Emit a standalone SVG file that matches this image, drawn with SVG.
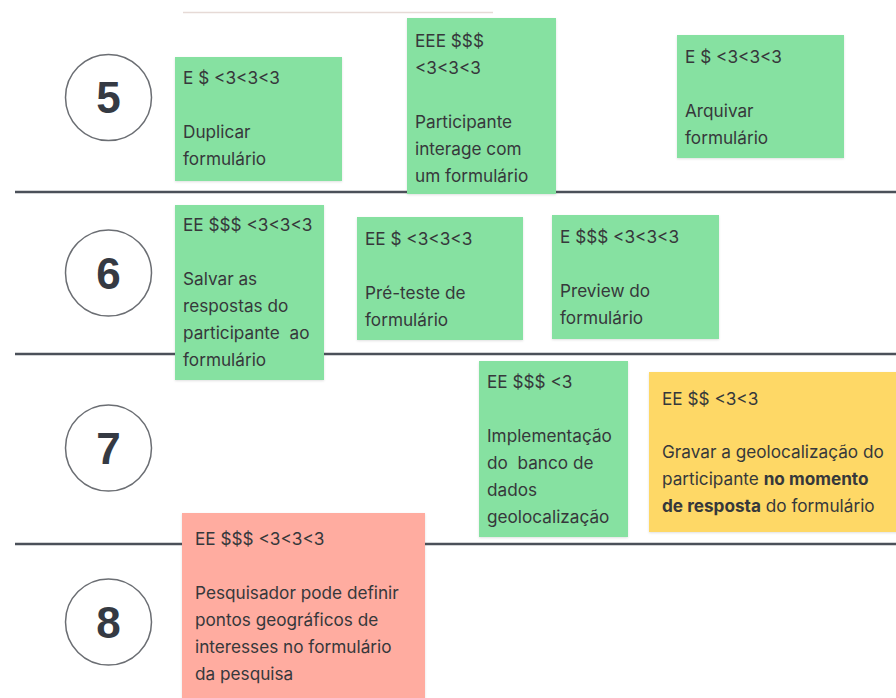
<svg xmlns="http://www.w3.org/2000/svg" width="896" height="698" viewBox="0 0 896 698">
  <defs>
    <filter id="shadow" x="-5%" y="-5%" width="110%" height="115%">
      <feDropShadow dx="0" dy="1" stdDeviation="1" flood-color="#000" flood-opacity="0.12"/>
    </filter>
  </defs>
  <style>
    .lane { stroke: #4b5059; stroke-width: 2.5; }
    .step circle { fill: #fff; stroke: #6b6e73; stroke-width: 1.5; }
    .step text { font-family: "Liberation Sans", Arial, sans-serif; font-weight: bold; font-size: 44px; fill: #353a43; text-anchor: middle; }
    .note rect { filter: url(#shadow); }
    .green rect { fill: #86e1a1; }
    .yellow rect { fill: #fed866; }
    .red rect { fill: #ffaca0; }
    .note text { font-family: Inter, "Noto Sans", sans-serif; font-size: 17.2px; fill: #36383b; }
    .b { font-weight: bold; }
  </style>
  <rect width="896" height="698" fill="#fff"/>

  <!-- edge of a card cut off at the top -->
  <line x1="183" y1="12.5" x2="493" y2="12.5" stroke="#e6dad6" stroke-width="1.5"/>

  <!-- lane separators -->
  <g id="lanes">
    <line class="lane" x1="15" y1="192" x2="896" y2="192"/>
    <line class="lane" x1="15" y1="354" x2="896" y2="354"/>
    <line class="lane" x1="15" y1="544" x2="896" y2="544"/>
  </g>

  <!-- step markers -->
  <g id="step5" class="step"><circle cx="108.5" cy="97.5" r="43"/><text x="108.5" y="113">5</text></g>
  <g id="step6" class="step"><circle cx="108.5" cy="273" r="43"/><text x="108.5" y="289">6</text></g>
  <g id="step7" class="step"><circle cx="108.5" cy="448" r="43"/><text x="108.5" y="464">7</text></g>
  <g id="step8" class="step"><circle cx="108.5" cy="622" r="43"/><text x="108.5" y="638">8</text></g>

  <!-- lane 5 -->
  <g id="duplicar" class="note green">
    <rect x="175" y="57" width="167" height="124"/>
    <text x="183" y="84">E $ &lt;3&lt;3&lt;3</text>
    <text x="183" y="138">Duplicar</text>
    <text x="183" y="165">formulário</text>
  </g>
  <g id="participante-interage" class="note green">
    <rect x="407" y="18" width="149" height="176"/>
    <text x="415" y="47">EEE $$$</text>
    <text x="415" y="74">&lt;3&lt;3&lt;3</text>
    <text x="415" y="128">Participante</text>
    <text x="415" y="155">interage com</text>
    <text x="415" y="182">um formulário</text>
  </g>
  <g id="arquivar" class="note green">
    <rect x="677" y="35" width="167" height="123"/>
    <text x="685" y="63">E $ &lt;3&lt;3&lt;3</text>
    <text x="685" y="117">Arquivar</text>
    <text x="685" y="144">formulário</text>
  </g>

  <!-- lane 6 -->
  <g id="salvar-respostas" class="note green">
    <rect x="175" y="205" width="149" height="175"/>
    <text x="183" y="231">EE $$$ &lt;3&lt;3&lt;3</text>
    <text x="183" y="285">Salvar as</text>
    <text x="183" y="312">respostas do</text>
    <text x="183" y="339" xml:space="preserve">participante  ao</text>
    <text x="183" y="366">formulário</text>
  </g>
  <g id="pre-teste" class="note green">
    <rect x="357" y="217" width="166" height="123"/>
    <text x="365" y="245">EE $ &lt;3&lt;3&lt;3</text>
    <text x="365" y="299">Pré-teste de</text>
    <text x="365" y="326">formulário</text>
  </g>
  <g id="preview" class="note green">
    <rect x="552" y="215" width="167" height="124"/>
    <text x="560" y="243">E $$$ &lt;3&lt;3&lt;3</text>
    <text x="560" y="297">Preview do</text>
    <text x="560" y="324">formulário</text>
  </g>

  <!-- lane 7 -->
  <g id="banco-geolocalizacao" class="note green">
    <rect x="479" y="361" width="149" height="176"/>
    <text x="487" y="388">EE $$$ &lt;3</text>
    <text x="487" y="442">Implementação</text>
    <text x="487" y="469" xml:space="preserve">do  banco de</text>
    <text x="487" y="496">dados</text>
    <text x="487" y="523">geolocalização</text>
  </g>
  <g id="gravar-geolocalizacao" class="note yellow">
    <rect x="649" y="372" width="260" height="160"/>
    <text x="662" y="405">EE $$ &lt;3&lt;3</text>
    <text x="662" y="458">Gravar a geolocalização do</text>
    <text x="662" y="485">participante <tspan class="b">no momento</tspan></text>
    <text x="662" y="512"><tspan class="b">de resposta</tspan> do formulário</text>
  </g>

  <!-- lane 8 -->
  <g id="pontos-geograficos" class="note red">
    <rect x="182" y="513" width="243" height="200"/>
    <text x="195" y="545">EE $$$ &lt;3&lt;3&lt;3</text>
    <text x="195" y="599">Pesquisador pode definir</text>
    <text x="195" y="626">pontos geográficos de</text>
    <text x="195" y="653">interesses no formulário</text>
    <text x="195" y="680">da pesquisa</text>
  </g>
</svg>
